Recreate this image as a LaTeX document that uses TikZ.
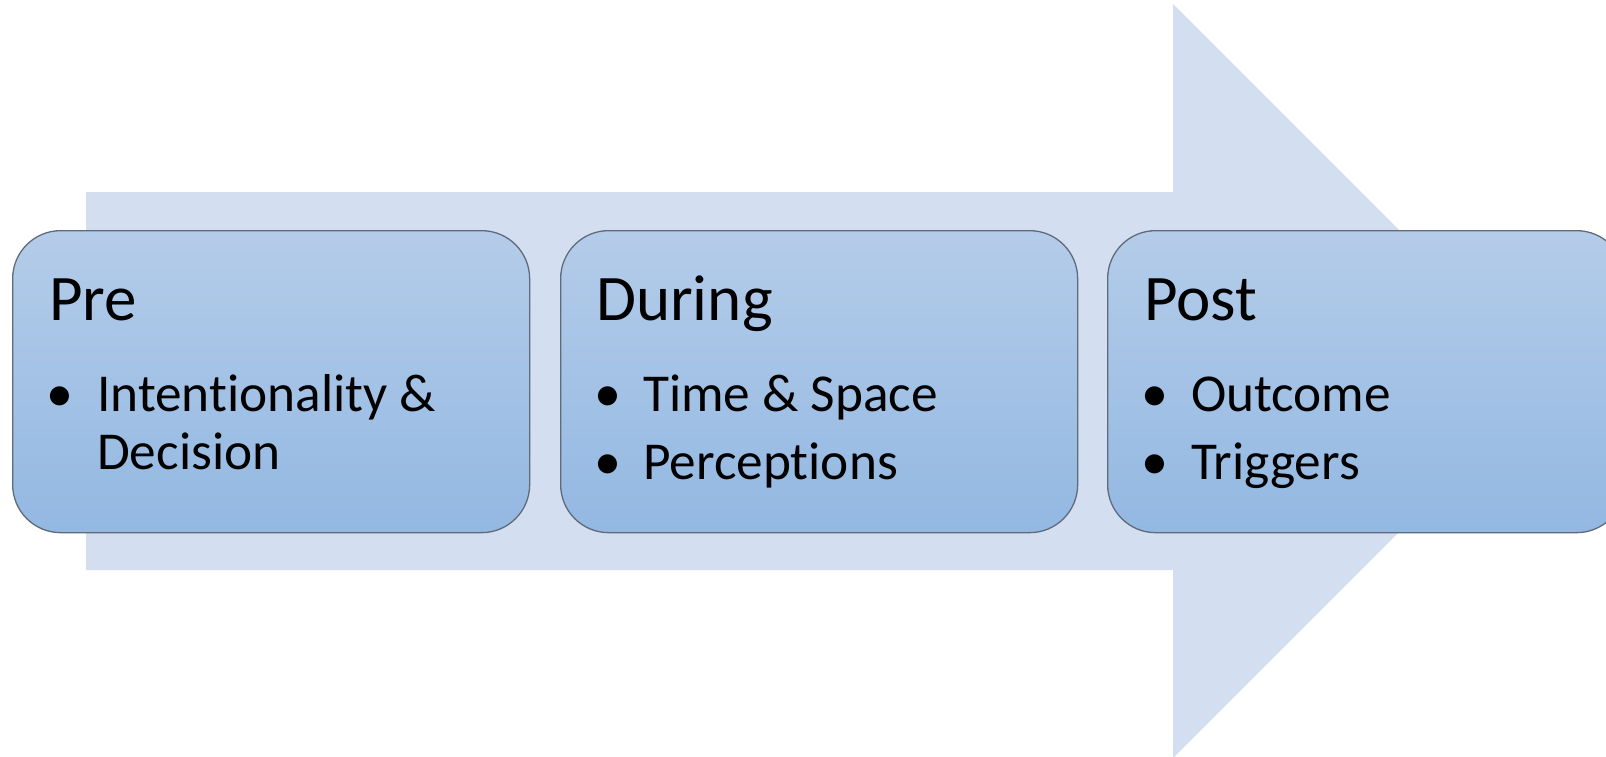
\documentclass[tikz,border=0pt]{standalone}
\usepackage{fontspec}
\setmainfont{Carlito}[RawFeature=-liga]
\definecolor{arrowc}{HTML}{D3DEF0}
\definecolor{boxtop}{HTML}{B4CCE9}
\definecolor{boxbot}{HTML}{93B8E2}
\definecolor{boxline}{HTML}{5F6B7A}
\tikzset{
  stagebox/.style={draw=boxline, line width=1.3pt, rounded corners=48pt,
    top color=boxtop, bottom color=boxbot, anchor=north west,
    minimum width=517pt, minimum height=302pt, inner sep=0pt},
  titletext/.style={anchor=base west, inner sep=0pt, font=\fontsize{65}{72}\selectfont},
  itemtext/.style={anchor=base west, inner sep=0pt, font=\fontsize{53.3}{58}\selectfont},
  dottext/.style={anchor=base, inner sep=0pt, font=\fontsize{54}{58}\selectfont}
}
\begin{document}
\begin{tikzpicture}[x=1pt,y=-1pt]
\useasboundingbox (0,0) rectangle (1606,756);
\clip (0,0) rectangle (1606,756);
\fill[arrowc] (86,192) -- (1173,192) -- (1173,4) -- (1550,381) -- (1173,758) -- (1173,570) -- (86,570) -- cycle;
% boxes
\node[stagebox] (pre) at (12,230) {};
\node[stagebox] (during) at (560,230) {};
\node[stagebox] (post) at (1107,230) {};
% Pre
\node[titletext] (pret) at (49,320) {Pre};
\node[dottext] (pred1) at (60,411) {•};
\node[itemtext] (prei1) at (97,411) {Intentionality \&};
\node[itemtext] (prei1b) at (97,469) {Decision};
% During
\node[titletext] (durt) at (596,320) {During};
\node[dottext] (durd1) at (608,411) {•};
\node[itemtext] (duri1) at (643,411) {Time \& Space};
\node[dottext] (durd2) at (608,479) {•};
\node[itemtext] (duri2) at (643,479) {Perceptions};
% Post
\node[titletext] (postt) at (1144,320) {Post};
\node[dottext] (postd1) at (1155,411) {•};
\node[itemtext] (posti1) at (1191,411) {Outcome};
\node[dottext] (postd2) at (1155,479) {•};
\node[itemtext] (posti2) at (1191,479) {Triggers};
\end{tikzpicture}
\end{document}
